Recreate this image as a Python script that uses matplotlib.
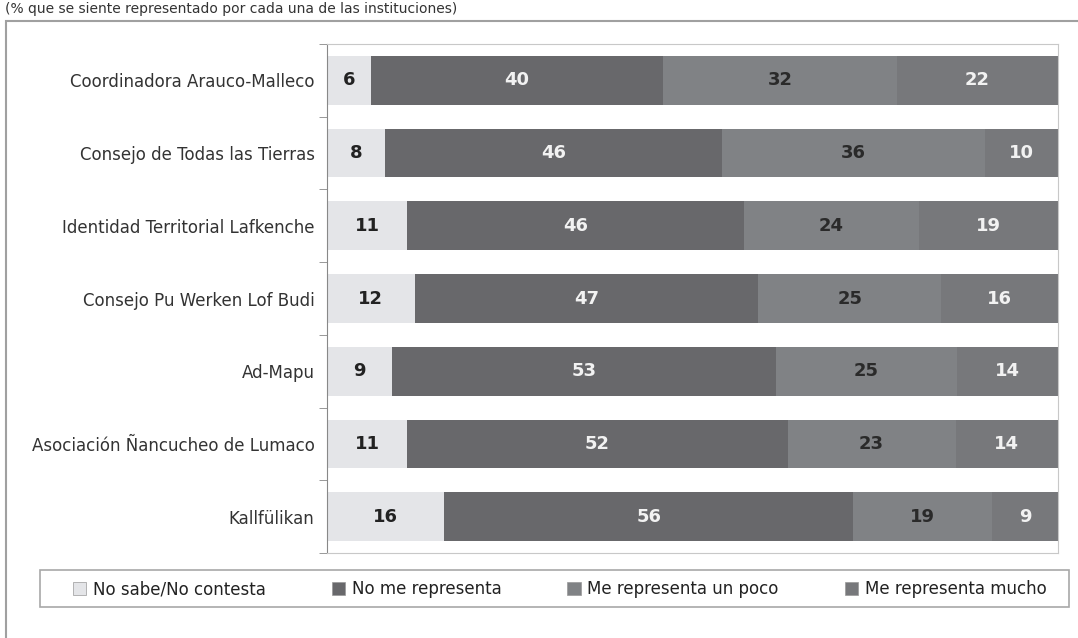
import numpy as np
import matplotlib
matplotlib.use("Agg")
import matplotlib.pyplot as plt
from matplotlib.patches import Rectangle

categories = ['Coordinadora Arauco-Malleco', 'Consejo de Todas las Tierras',
              'Identidad Territorial Lafkenche', 'Consejo Pu Werken Lof Budi',
              'Ad-Mapu', 'Asociación Ñancucheo de Lumaco', 'Kallfülikan']
series_names = ['No sabe/No contesta', 'No me representa',
                'Me representa un poco', 'Me representa mucho']
no_sabe = [6, 8, 11, 12, 9, 11, 16]
no_repr = [40, 46, 46, 47, 53, 52, 56]
un_poco = [32, 36, 24, 25, 25, 23, 19]
mucho = [22, 10, 19, 16, 14, 14, 9]

colors = ['#e4e5e8', '#68686b', '#808285', '#77787b']
text_colors = ['#222222', '#f2f2f2', '#2a2a2a', '#f2f2f2']

values = np.array([no_sabe, no_repr, un_poco, mucho], dtype=float)
# 100% stacked, like the original spreadsheet chart
shares = values / values.sum(axis=0) * 100

W, H = 1078, 638
fig = plt.figure(figsize=(W / 100, H / 100), dpi=100)
fig.patch.set_facecolor('white')

# outer frame of the page
fig.patches.append(Rectangle((6 / W, -0.1), 1.1, 1 - 21 / H + 0.1,
                             transform=fig.transFigure, fill=False,
                             edgecolor='#a0a0a0', linewidth=1.5))
fig.text(5 / W, 1 - 2 / H, '(% que se siente representado por cada una de las instituciones)',
         fontsize=10, color='#333333', va='top', ha='left')

ax = fig.add_axes([327 / W, 1 - 553 / H, 731 / W, 509 / H])
y = np.arange(len(categories))
left = np.zeros(len(categories))
for i in range(4):
    ax.barh(y, shares[i], left=left, height=0.67, color=colors[i],
            label=series_names[i], edgecolor='none')
    for j in range(len(categories)):
        ax.text(left[j] + shares[i][j] / 2, y[j], f'{int(values[i][j])}',
                ha='center', va='center', fontsize=13, fontweight='bold',
                color=text_colors[i])
    left += shares[i]

ax.set_xlim(0, 100)
ax.set_ylim(len(categories) - 0.5, -0.5)
ax.set_yticks(y)
ax.set_yticklabels(categories, fontsize=12, color='#333333')
ax.set_yticks(np.arange(-0.5, len(categories)), minor=True)
ax.tick_params(axis='y', which='major', length=0, pad=9)
ax.tick_params(axis='y', which='minor', length=6, color='#888888', direction='out')
ax.set_xticks([])
for side in ['top', 'right', 'bottom']:
    ax.spines[side].set_color('#c8c8c8')
ax.spines['left'].set_color('#888888')

# legend box drawn separately, entries placed inside it
fig.patches.append(Rectangle((40 / W, 1 - 607 / H), 1029 / W, 37 / H,
                             transform=fig.transFigure, fill=False,
                             edgecolor='#a8a8a8', linewidth=1.2))
leg = fig.legend(loc='center left', ncol=4, bbox_to_anchor=(73 / W, 1 - 589 / H),
                 fontsize=12, frameon=False, borderpad=0, borderaxespad=0,
                 handlelength=0.8, handleheight=0.8, handletextpad=0.4,
                 columnspacing=3.95)
for t in leg.get_texts():
    t.set_color('#222222')
for h in leg.legend_handles:
    h.set_edgecolor('#999999')
    h.set_linewidth(0.5)

fig.savefig('out.png', dpi=100)
